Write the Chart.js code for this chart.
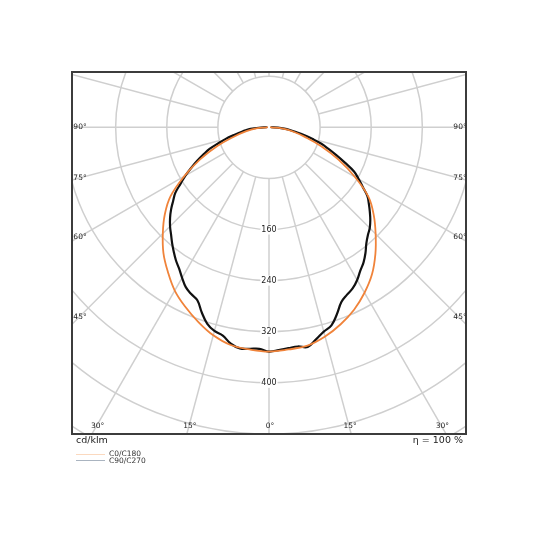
<!DOCTYPE html>
<html><head><meta charset="utf-8">
<script src="https://cdn.jsdelivr.net/npm/chart.js@4.4.0/dist/chart.umd.min.js"></script>
<style>
html,body{margin:0;padding:0;background:#fff;}
#wrap{position:absolute;left:0;top:0;width:540px;height:540px;}
.t{position:absolute;font-family:"DejaVu Sans",sans-serif;color:#222;white-space:nowrap;line-height:1;}
.ln{position:absolute;height:1px;width:29px;left:76px;}
</style></head><body>
<div id="wrap"><canvas id="c"></canvas></div>
<div class="t" style="left:76px;top:435px;font-size:9.5px">cd/klm</div>
<div class="t" style="right:77px;top:435px;font-size:9.5px">η = 100 %</div>
<div class="ln" style="top:454px;background:#fbd9bf"></div>
<div class="ln" style="top:460px;background:#aab4c0"></div>
<div class="t" id="lg0" style="left:109px;top:450px;font-size:7.5px;color:#333"></div>
<div class="t" id="lg1" style="left:109px;top:456.5px;font-size:7.5px;color:#333"></div>
<script>
// gamma angles (degrees) and luminous intensity (cd/klm)
const gammaFine = [0,2.5,5,7.5,10,12.5,15,17.5,20,22.5,25,27.5,30,32.5,35,37.5,40,42.5,45,47.5,50,52.5,55,57.5,60,62.5,65,67.5,70,72.5,75,77.5,80,82.5,85,87.5,90];
const c90  = [351,349,347,346,349,340,331,325,311,296,289,284,276,266,258,248,237,229,223,215,206,197,188,174,162,150,131,114,99,86,70,56,43,33,24,14,4];
const c270 = [351,347,348,349,344,334,330,322,308,293,288,282,272,262,254,245,236,227,219,210,200,189,179,164,151,137,124,111,99,83,70,56,45,37,29,16,4];
const gammaCoarse = [0,5,10,15,20,25,30,35,40,45,50,55,60,65,70,75,80,85,90];
const c0   = [351,349,347,339,328,315,299,281,259,236,214,190,155,120,87,58,38,20,3];
const c180 = [351,349,346,337,324,310,295,276,257,235,213,188,153,119,86,57,37,20,3];
const seriesNames = ['C0/C180','C90/C270'];
const ringValues = [80,160,240,320,400,480,560,640];
const ringLabels = [160,240,320,400];
const angleTicks = [0,15,30,45,60,75,90];

document.getElementById('lg0').textContent = seriesNames[0];
document.getElementById('lg1').textContent = seriesNames[1];

function toXY(gammas, left, right){
  const pts=[];
  for(let i=gammas.length-1;i>=0;i--){const g=gammas[i]*Math.PI/180;pts.push({x:-left[i]*Math.sin(g),y:-left[i]*Math.cos(g)});}
  for(let i=1;i<gammas.length;i++){const g=gammas[i]*Math.PI/180;pts.push({x:right[i]*Math.sin(g),y:-right[i]*Math.cos(g)});}
  return pts;
}

const polarGrid = {
  id:'polarGrid',
  beforeDatasetsDraw(chart){
    const {ctx, chartArea:a, scales:{x,y}} = chart;
    const cx = x.getPixelForValue(0), cy = y.getPixelForValue(0);
    const k = (x.getPixelForValue(100)-cx)/100;
    ctx.save();
    ctx.beginPath(); ctx.rect(a.left,a.top,a.right-a.left,a.bottom-a.top); ctx.clip();
    ctx.strokeStyle='#cfcfcf'; ctx.lineWidth=1.5;
    ringValues.forEach(r=>{ctx.beginPath();ctx.arc(cx,cy,r*k,0,Math.PI*2);ctx.stroke();});
    const r0 = ringValues[0];
    for(let d=0; d<360; d+=15){
      const g=d*Math.PI/180;
      ctx.beginPath();
      ctx.moveTo(cx+Math.sin(g)*r0*k, cy+Math.cos(g)*r0*k);
      ctx.lineTo(cx+Math.sin(g)*800*k, cy+Math.cos(g)*800*k);
      ctx.stroke();
    }
    // ring value labels
    ctx.font='8px "DejaVu Sans", sans-serif';
    ctx.textAlign='center'; ctx.textBaseline='middle';
    ringLabels.forEach(v=>{
      const py = cy + v*k; const txt=String(v);
      const w = ctx.measureText(txt).width;
      ctx.fillStyle='#fff'; ctx.fillRect(cx-w/2-1, py-5, w+2, 10);
      ctx.fillStyle='#222'; ctx.fillText(txt, cx, py+0.5);
    });
    // angle labels
    ctx.font='7.5px "DejaVu Sans", sans-serif';
    const inL = a.left+7, inR = a.right-7, inB = a.bottom-8;
    angleTicks.forEach(d=>{
      const g=d*Math.PI/180;
      const sides = d===0 ? [1] : [-1,1];
      sides.forEach(s=>{
        let px, py;
        if(d>0){
          const edge = s<0 ? inL : inR;
          const t = Math.abs(edge-cx)/Math.sin(g);
          py = cy + t*Math.cos(g);
          px = edge;
          if(py>inB){ const t2=(inB-cy)/Math.cos(g); px = cx + s*t2*Math.sin(g); py=inB; }
        } else { px=cx; py=inB; }
        ctx.fillStyle='#222';
        ctx.fillText(d+'°', px+1, py);
      });
    });
    ctx.restore();
  },
  afterDatasetsDraw(chart){
    const {ctx, chartArea:a} = chart;
    ctx.save(); ctx.strokeStyle='#3c3c3c'; ctx.lineWidth=2;
    ctx.strokeRect(a.left,a.top,a.right-a.left,a.bottom-a.top);
    ctx.restore();
  }
};

new Chart(document.getElementById('c'), {
  type:'scatter',
  data:{datasets:[
    {label:seriesNames[0], data:toXY(gammaCoarse,c180,c0), showLine:true, borderColor:'#f0833a', borderWidth:1.8, borderCapStyle:'round', pointRadius:0, tension:0.4, fill:false},
    {label:seriesNames[1], data:toXY(gammaFine,c270,c90), showLine:true, borderColor:'#111111', borderWidth:2.2, borderCapStyle:'round', pointRadius:0, tension:0.4, fill:false}
  ]},
  options:{
    responsive:true, maintainAspectRatio:false, animation:false,
    layout:{padding:{left:72,top:72,right:74,bottom:106}},
    scales:{
      x:{type:'linear',min:-308.3,max:308.3,display:false},
      y:{type:'linear',min:-480,max:86.5,display:false}
    },
    plugins:{legend:{display:false},tooltip:{enabled:false}}
  },
  plugins:[polarGrid]
});
</script>
</body></html>
